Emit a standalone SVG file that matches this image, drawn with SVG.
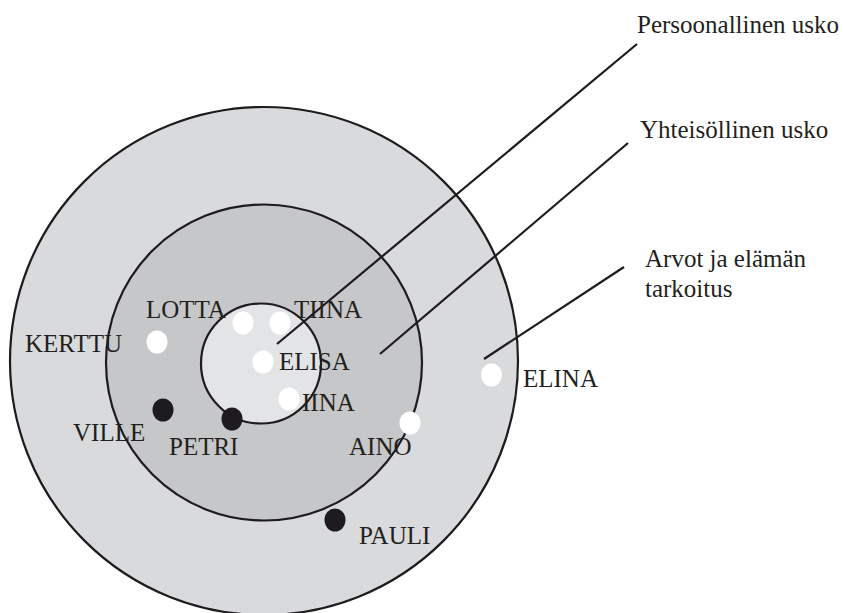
<svg xmlns="http://www.w3.org/2000/svg" width="843" height="613" viewBox="0 0 843 613">
<style>
.ring{stroke:#1d1b1e;stroke-width:2.2}
.lead{stroke:#1d1b1e;stroke-width:2.2;fill:none}
.w{fill:#ffffff}
.b{fill:#1d1b1e}
text{font-family:"Liberation Serif","Times New Roman",serif;font-size:25px;fill:#231f20}
</style>
<rect width="843" height="613" fill="#ffffff"/>
<g id="ring-outer"><circle class="ring" cx="264" cy="361" r="254" fill="#d9dadc"/></g>
<g id="ring-middle"><circle class="ring" cx="264" cy="362.5" r="158" fill="#c6c7c9"/></g>
<g id="ring-inner"><circle class="ring" cx="261" cy="363.5" r="60" fill="#e3e4e6"/></g>
<g id="connectors">
<line class="lead" x1="637" y1="44" x2="277" y2="344"/>
<line class="lead" x1="628" y1="143" x2="380" y2="354"/>
<line class="lead" x1="624" y1="267" x2="484" y2="359"/>
</g>
<g id="node-kerttu"><ellipse class="w" cx="157" cy="342" rx="10.5" ry="11.5"/><text x="25" y="352">KERTTU</text></g>
<g id="node-lotta"><ellipse class="w" cx="243" cy="323" rx="10.5" ry="11.5"/><text x="146" y="318">LOTTA</text></g>
<g id="node-tiina"><ellipse class="w" cx="280" cy="323" rx="10.5" ry="11.5"/><text x="294" y="318">TIINA</text></g>
<g id="node-elisa"><ellipse class="w" cx="263" cy="362" rx="10.5" ry="11.5"/><text x="279" y="370">ELISA</text></g>
<g id="node-iina"><ellipse class="w" cx="289" cy="399" rx="10.5" ry="11.5"/><text x="302" y="411">IINA</text></g>
<g id="node-ville"><ellipse class="b" cx="163" cy="410" rx="10.5" ry="11.5"/><text x="73" y="441">VILLE</text></g>
<g id="node-petri"><ellipse class="b" cx="232" cy="419" rx="10.5" ry="11.5"/><text x="169" y="455">PETRI</text></g>
<g id="node-aino"><ellipse class="w" cx="410" cy="423" rx="10.5" ry="11.5"/><text x="349" y="455">AINO</text></g>
<g id="node-pauli"><ellipse class="b" cx="335" cy="520" rx="10.5" ry="11.5"/><text x="359" y="544">PAULI</text></g>
<g id="node-elina"><ellipse class="w" cx="491.5" cy="375" rx="10.5" ry="11.5"/><text x="523" y="387">ELINA</text></g>
<g id="label-persoonallinen"><text x="637" y="33">Persoonallinen usko</text></g>
<g id="label-yhteisollinen"><text x="640" y="138">Yhteisöllinen usko</text></g>
<g id="label-arvot"><text x="645" y="267">Arvot ja elämän</text><text x="645" y="297">tarkoitus</text></g>
</svg>
